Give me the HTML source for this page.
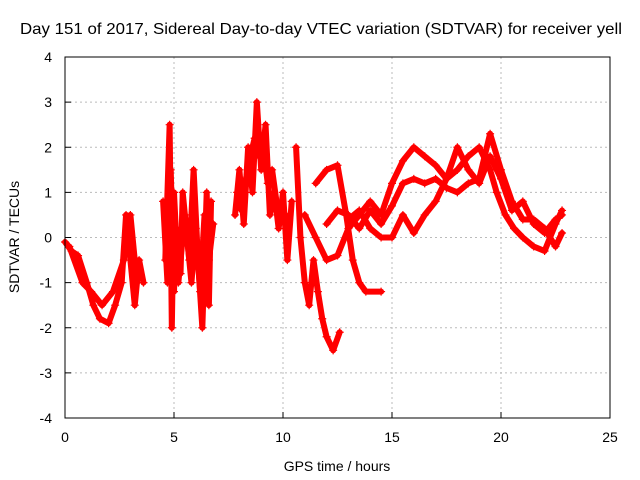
<!DOCTYPE html>
<html><head><meta charset="utf-8"><style>
body{margin:0;background:#fff;}
svg{display:block;font-family:"Liberation Sans",sans-serif;}
</style></head><body>
<svg id="chart" width="640" height="480">
<text x="20" y="34" font-size="16" textLength="602" lengthAdjust="spacingAndGlyphs">Day 151 of 2017, Sidereal Day-to-day VTEC variation (SDTVAR) for receiver yell</text>
<g id="grid"></g>
<g id="marks"></g>
<rect x="65" y="57" width="545" height="361" fill="none" stroke="#000"/>
<g id="axes" font-size="14"></g>
<text x="337" y="471" font-size="14" text-anchor="middle">GPS time / hours</text>
<text transform="translate(19,237) rotate(-90)" font-size="14" text-anchor="middle">SDTVAR / TECUs</text>
</svg>
<script>
const xTicks=[0,5,10,15,20,25];
const yTicks=[-4,-3,-2,-1,0,1,2,3,4];
const trackA_t=[0,0.3,0.6,1,1.3,1.6,2,2.3,2.6,2.8,3.0,3.2,3.4,3.6];
const trackA_v=[-0.1,-0.3,-0.4,-1.0,-1.5,-1.8,-1.9,-1.5,-1.0,0.5,-0.5,-1.5,-0.5,-1.0];
const trackB_t=[0.2,0.8,1.2,1.7,2.2,2.7,3.0,3.3];
const trackB_v=[-0.2,-1.0,-1.2,-1.5,-1.2,-0.5,0.5,-1.0];
const trackC_t=[4.6,4.8,4.9,5.0,5.2,5.5,5.7,5.9,6.1,6.3,6.5,6.6,6.7];
const trackC_v=[-0.5,2.5,-2.0,1.0,-1.0,0.5,-0.5,1.5,-0.5,-2.0,1.0,-1.5,0.8];
const trackC2_t=[4.5,4.7,4.85,5.0,5.1,5.3,5.4,5.6,5.8,6.0,6.2,6.4,6.6,6.8];
const trackC2_v=[0.8,-1.0,1.5,-1.2,0.2,-0.8,1.0,0.0,-1.0,0.2,-1.2,0.5,-0.5,0.3];
const trackD_t=[7.8,8.0,8.2,8.4,8.6,8.8,9.0,9.2,9.4,9.6,9.8,10.0,10.2,10.4];
const trackD_v=[0.5,1.5,0.3,2.0,1.0,3.0,1.5,2.5,0.5,1.0,0.2,1.0,-0.5,0.8];
const trackD2_t=[7.9,8.1,8.3,8.5,8.7,8.9,9.1,9.3,9.5,9.7,9.9,10.1,10.3];
const trackD2_v=[1.0,0.6,1.3,1.8,2.2,1.8,2.0,1.2,1.5,0.8,0.6,0.3,0.5];
const trackE_t=[10.6,10.8,11,11.2,11.4,11.6,11.8,12,12.3,12.6];
const trackE_v=[2.0,0,-1.0,-1.5,-0.5,-1.2,-1.8,-2.2,-2.5,-2.1];
const trackF_t=[11.5,12,12.5,12.9,13.2,13.5,13.8,14.5];
const trackF_v=[1.2,1.5,1.6,0.5,-0.5,-1.0,-1.2,-1.2];
const trackG_t=[11.0,11.5,12.0,12.5,13,13.5,14,14.5,15,15.5,16,16.5,17,17.5,18,18.5,19,19.5,19.8,20.2,20.6,21,21.5,22,22.5,22.8];
const trackG_v=[0.5,0.0,-0.5,-0.4,0.2,0.5,0.8,0.5,1.2,1.7,2.0,1.8,1.6,1.3,1.5,1.8,2.0,1.5,1.0,0.5,0.2,0.0,-0.2,-0.3,0.3,0.6];
const trackH_t=[12,12.5,13,13.5,14,14.5,15,15.5,16,16.5,17,17.5,18,18.5,19,19.5,20,20.5,21,21.5,22,22.5,22.8];
const trackH_v=[0.3,0.6,0.5,0.2,0.6,0.3,0.7,1.2,1.3,1.2,1.3,1.1,1.0,1.2,1.3,2.3,1.5,0.8,0.4,0.4,0.2,-0.2,0.1];
const trackI_t=[13,13.5,14,14.5,15,15.5,16,16.5,17,17.5,18,18.5,19,19.5,20,20.5,21,21.5,22,22.5,22.8];
const trackI_v=[0.4,0.6,0.2,0.0,0.0,0.5,0.1,0.5,0.8,1.3,2.0,1.5,1.2,1.8,1.3,0.6,0.8,0.3,0.1,0.4,0.5];
const tracks=[[trackA_t,trackA_v],[trackB_t,trackB_v],[trackC_t,trackC_v],[trackC2_t,trackC2_v],[trackD_t,trackD_v],[trackD2_t,trackD2_v],[trackE_t,trackE_v],[trackF_t,trackF_v],[trackG_t,trackG_v],[trackH_t,trackH_v],[trackI_t,trackI_v]];
const NS="http://www.w3.org/2000/svg";
const X=t=>65+t/25*545, Y=v=>237.5-v/8*361;
const grid=document.getElementById('grid'),axes=document.getElementById('axes'),marks=document.getElementById('marks');
function mk(tag,attrs,parent){const e=document.createElementNS(NS,tag);for(const k in attrs)e.setAttribute(k,attrs[k]);parent.appendChild(e);return e;}
xTicks.forEach(t=>{
 if(t>0&&t<25){const l=mk('line',{x1:X(t),x2:X(t),y1:57,y2:418,stroke:'#bbb','stroke-dasharray':'2,3'},grid);
 
 }
 const tx=mk('text',{x:X(t),y:442,'text-anchor':'middle'},axes);tx.textContent=t;
 
 
 mk('line',{x1:X(t),x2:X(t),y1:418,y2:412,stroke:'#000'},axes);
});
yTicks.forEach(v=>{
 if(v>-4&&v<4){const l=mk('line',{x1:65,x2:610,y1:Y(v),y2:Y(v),stroke:'#bbb','stroke-dasharray':'2,3'},grid);
 
 }
 const tx=mk('text',{x:52,y:Y(v)+5,'text-anchor':'end'},axes);tx.textContent=v;
 
 
 mk('line',{x1:65,x2:71,y1:Y(v),y2:Y(v),stroke:'#000'},axes);
});
tracks.forEach(([ts,vs])=>{
 const pts=ts.map((t,i)=>X(t)+','+Y(vs[i])).join(' ');
 const pl=mk('polyline',{points:pts,fill:'none',stroke:'#f00','stroke-width':6,'stroke-linejoin':'round','stroke-linecap':'round'},marks);
 
 
 ts.forEach((t,i)=>{
  const x=X(t),y=Y(vs[i]);
  const p=mk('path',{d:`M${x-4},${y}h8M${x},${y-4}v8`,stroke:'#f00','stroke-width':1.2},marks);
  
  
 });
});
</script>
</body></html>
